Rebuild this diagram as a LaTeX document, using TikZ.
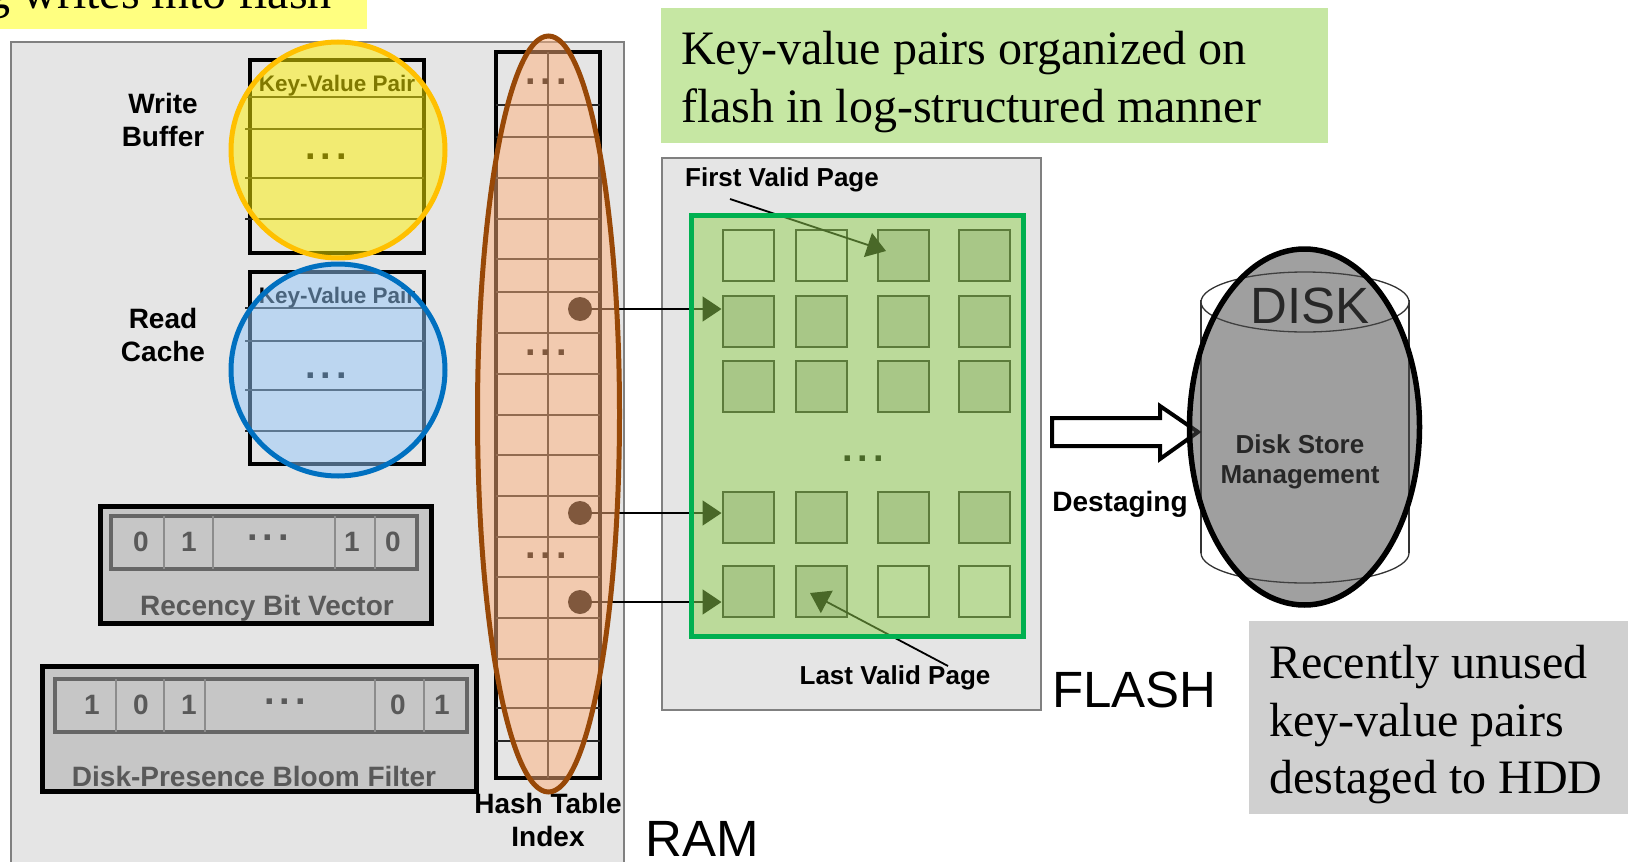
\documentclass[tikz,border=0pt]{standalone}
\usepackage{fontspec}
\setmainfont{Liberation Serif}
\setsansfont{Liberation Sans}
\usetikzlibrary{arrows.meta}
\definecolor{panelgray}{HTML}{E5E5E5}
\definecolor{barsgray}{HTML}{C6C6C6}
\definecolor{notegreen}{HTML}{C6E7A3}
\definecolor{notegray}{HTML}{D0D0D0}
\definecolor{noteyellow}{HTML}{FFFF80}
\newcommand{\wideDots}{.\kern5pt.\kern5pt.}
\tikzset{
  panel/.style={draw=black!50,line width=1.5pt,fill=panelgray},
  bufbox/.style={draw=black,line width=4pt},
  rowline/.style={draw=black!85,line width=1.5pt},
  barbox/.style={draw=black,line width=5pt,fill=barsgray},
  barinner/.style={draw=black!60,line width=4pt},
  bardiv/.style={draw=black!45,line width=1.5pt},
  lbl/.style={font=\sffamily\bfseries\fontsize{28}{33.5}\selectfont,align=center,inner sep=0pt},
  smalllbl/.style={font=\sffamily\bfseries\fontsize{26}{31}\selectfont,inner sep=0pt},
  kvlbl/.style={font=\sffamily\bfseries\fontsize{22.5}{26}\selectfont,inner sep=0pt},
  graylbl/.style={lbl,text=black!65},
  dots/.style={font=\sffamily\bfseries\fontsize{38}{38}\selectfont,inner sep=0pt},
  bigname/.style={font=\sffamily\fontsize{51}{55}\selectfont,inner sep=0pt},
  note/.style={font=\fontsize{48}{57.5}\selectfont,align=left,inner sep=0pt,anchor=west},
  hdot/.style={circle,fill=black,minimum size=24pt,inner sep=0pt},
  pageon/.style={draw=black!85,line width=2pt,fill=black!25,minimum width=51pt,minimum height=51pt,inner sep=0pt},
  pageoff/.style={pageon,fill=panelgray},
  linkarrow/.style={-{Triangle[length=19pt,width=25pt]},line width=1.8pt,draw=black},
}
\begin{document}
\begin{tikzpicture}[x=1pt,y=-1pt]
\useasboundingbox (0,0) rectangle (1628,862);
\clip (0,0) rectangle (1628,862);
\fill[noteyellow] (0,0) rectangle (367,29);
\node[note,anchor=base east] (caching) at (332,9) {g writes into flash};
\fill[notegreen] (661,8) rectangle (1328,143);
\node[note] (lognote) at (681,82) {Key-value pairs organized on\\flash in log-structured manner};
\fill[notegray] (1249,621) rectangle (1628,814);
\node[note] (hddnote) at (1269,725) {Recently unused\\key-value pairs\\destaged to HDD};
\draw[panel] (11,42) rectangle (624,872);
\draw[panel] (662,158) rectangle (1041,710);
\node[lbl] (writelbl) at (163,120) {Write\\Buffer};
\node[lbl] (readlbl) at (163,335) {Read\\Cache};
\draw[bufbox] (250,60) rectangle (424,253);
\foreach \y in {97,129,178,219}
  \draw[rowline] (245,\y) -- (424,\y);
\node[kvlbl] (kvwrite) at (337,86) {Key-Value Pair};
\node[dots] (dotswrite) at (326,157) {\wideDots};
\draw[bufbox] (250,272) rectangle (424,464);
\foreach \y in {308,341,390,431}
  \draw[rowline] (245,\y) -- (424,\y);
\node[kvlbl] (kvread) at (337,298) {Key-Value Pair};
\node[dots] (dotsread) at (326,376) {\wideDots};
\draw[barbox] (100,506) rectangle (431,623);
\draw[barinner] (111,516) rectangle (417,569);
\foreach \x in {164,213,335,375}
  \draw[bardiv] (\x,516) -- (\x,569);
\foreach \x/\t in {141/0,189/1,352/1,393/0}
  \node[graylbl] at (\x,542) {\t};
\node[dots,text=black!65] (dotsrecency) at (268,538) {\wideDots};
\node[graylbl] (recencylbl) at (267,608) {Recency Bit Vector};
\draw[barbox] (42,666) rectangle (476,791);
\draw[barinner] (55,679) rectangle (467,732);
\foreach \x in {116,164,205,375,424}
  \draw[bardiv] (\x,679) -- (\x,732);
\foreach \x/\t in {92/1,141/0,189/1,398/0,442/1}
  \node[graylbl] at (\x,705) {\t};
\node[dots,text=black!65] (dotsbloom) at (285,702) {\wideDots};
\node[graylbl] (bloomlbl) at (254,776) {Disk-Presence Bloom Filter};
\draw[bufbox] (496,52) rectangle (600,778);
\draw[rowline] (548,52) -- (548,778);
\foreach \y in {105,137,178,219,259,292,333,374,415,455,496,537,577,618,659,708,741}
  \draw[rowline] (496,\y) -- (600,\y);
\node[dots] (dotshasha) at (546,82) {\wideDots};
\node[dots] (dotshashb) at (546,353) {\wideDots};
\node[dots] (dotshashc) at (546,556) {\wideDots};
\node[hdot] (slota) at (580,309) {};
\node[hdot] (slotb) at (580,513) {};
\node[hdot] (slotc) at (580,602) {};
\node[lbl] (hashlbl) at (548,820) {Hash Table\\Index};
\node[bigname] (ramlbl) at (702,839) {RAM};
\foreach \c/\x in {a/748,b/821,c/903,d/984}
  \foreach \r/\y in {b/321,c/386,d/517}
    \node[pageon] (page\r\c) at (\x,\y) {};
\node[pageoff] (pageaa) at (748,255.5) {};
\node[pageoff] (pageab) at (821,255.5) {};
\node[pageon] (pageac) at (903,255.5) {};
\node[pageon] (pagead) at (984,255.5) {};
\node[pageon] (pageea) at (748,591) {};
\node[pageon] (pageeb) at (821,591) {};
\node[pageoff] (pageec) at (903,591) {};
\node[pageoff] (pageed) at (984,591) {};
\node[dots] (dotspages) at (863,459) {\wideDots};
\draw[linkarrow] (slota) -- (slota -| pageba.west);
\draw[linkarrow] (slotb) -- (slotb -| pageda.west);
\draw[linkarrow] (slotc) -- (slotc -| pageea.west);
\node[smalllbl] (firstlbl) at (782,180) {First Valid Page};
\node[smalllbl] (lastlbl) at (895,678) {Last Valid Page};
\coordinate (firsttail) at (730,199);
\coordinate (firsttip) at (886,251);
\coordinate (lasttail) at (948,666);
\coordinate (lasttip) at (810,593);
\draw[linkarrow] (firsttail) -- (firsttip);
\draw[linkarrow] (lasttail) -- (lasttip);
\draw[line width=1.3pt,black!80,fill=white] (1305,553) ellipse [x radius=104,y radius=30];
\fill[white] (1201,300) rectangle (1409,553);
\draw[line width=1.3pt,black!80] (1201,300) -- (1201,553) (1409,300) -- (1409,553);
\draw[line width=1.3pt,black!80,fill=white] (1305,302) ellipse [x radius=104,y radius=30];
\node[bigname] (disklbl) at (1310,306) {DISK};
\node[font=\sffamily\bfseries\fontsize{26}{30}\selectfont,align=center,inner sep=0pt] (storelbl) at (1300,462) {Disk Store\\Management};
\draw[line width=4pt,fill=white] (1052,418) -- (1160,418) -- (1160,406) -- (1198,432) -- (1160,459) -- (1160,446) -- (1052,446) -- cycle;
\node[lbl] (destagelbl) at (1120,504) {Destaging};
\node[bigname,anchor=west] (flashlbl) at (1052,690) {FLASH};
\draw[line width=5pt,draw={rgb,255:red,255;green,192;blue,0},fill=yellow,fill opacity=.5] (338,150) ellipse [x radius=107,y radius=108];
\draw[line width=5pt,draw={rgb,255:red,0;green,112;blue,192},fill={rgb,255:red,149;green,201;blue,251},fill opacity=.5] (338,370) ellipse [x radius=107,y radius=106];
\draw[line width=5pt,draw={rgb,255:red,152;green,72;blue,7},fill={rgb,255:red,255;green,177;blue,123},fill opacity=.5] (548.5,414) ellipse [x radius=71,y radius=378];
\draw[line width=5pt,draw={rgb,255:red,0;green,176;blue,80},fill={rgb,255:red,146;green,208;blue,80},fill opacity=.5] (691.5,215) rectangle (1023.5,636);
\draw[line width=5.5pt,draw=black,fill={rgb,255:red,75;green,75;blue,75},fill opacity=.53] (1304.5,427) ellipse [x radius=115,y radius=178];
\end{tikzpicture}
\end{document}
